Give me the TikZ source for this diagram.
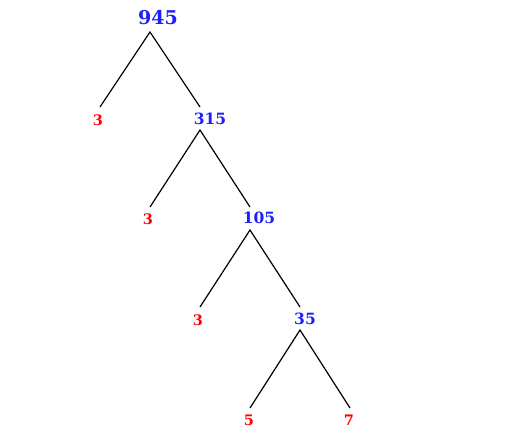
\documentclass[tikz,border=0pt]{standalone}
\usepackage{fontspec}
\setmainfont{DejaVu Serif}
\usepackage{tikz}
\usetikzlibrary{positioning}

\definecolor{compblue}{RGB}{30,30,255}
\definecolor{primered}{RGB}{255,0,0}

\tikzset{
  composite/.style={text=compblue,font=\bfseries\fontsize{15.5}{15.5}\selectfont,inner sep=0pt},
  root/.style={text=compblue,font=\bfseries\fontsize{19}{19}\selectfont,inner sep=0pt},
  prime/.style={text=primered,font=\bfseries\fontsize{14.5}{14.5}\selectfont,inner sep=0pt},
  branch/.style={draw=black,line width=1.2pt}
}

\begin{document}
\begin{tikzpicture}[x=1pt,y=-1pt]
  \useasboundingbox (0,0) rectangle (525,445);
  % numbers
  \node[root] (n945) at (158,18) {945};
  \node[prime] (p1) at (98,120) {3};
  \node[composite] (n315) at (210,119) {315};
  \node[prime] (p2) at (148,219) {3};
  \node[composite] (n105) at (259,218) {105};
  \node[prime] (p3) at (198,320) {3};
  \node[composite] (n35) at (305,319) {35};
  \node[prime] (p4) at (249,420) {5};
  \node[prime] (p5) at (349,420) {7};
  % branch tips
  \coordinate (t945) at (150,32);
  \coordinate (t315) at (200,130);
  \coordinate (t105) at (250,230);
  \coordinate (t35) at (300,330);
  \coordinate (e1) at (100,107);
  \coordinate (e2) at (200,107);
  \coordinate (e3) at (150,207);
  \coordinate (e4) at (250,207);
  \coordinate (e5) at (200,307);
  \coordinate (e6) at (300,307);
  \coordinate (e7) at (250,408);
  \coordinate (e8) at (350,408);
  \draw[branch] (e1) -- (t945) -- (e2);
  \draw[branch] (e3) -- (t315) -- (e4);
  \draw[branch] (e5) -- (t105) -- (e6);
  \draw[branch] (e7) -- (t35) -- (e8);
\end{tikzpicture}
\end{document}
